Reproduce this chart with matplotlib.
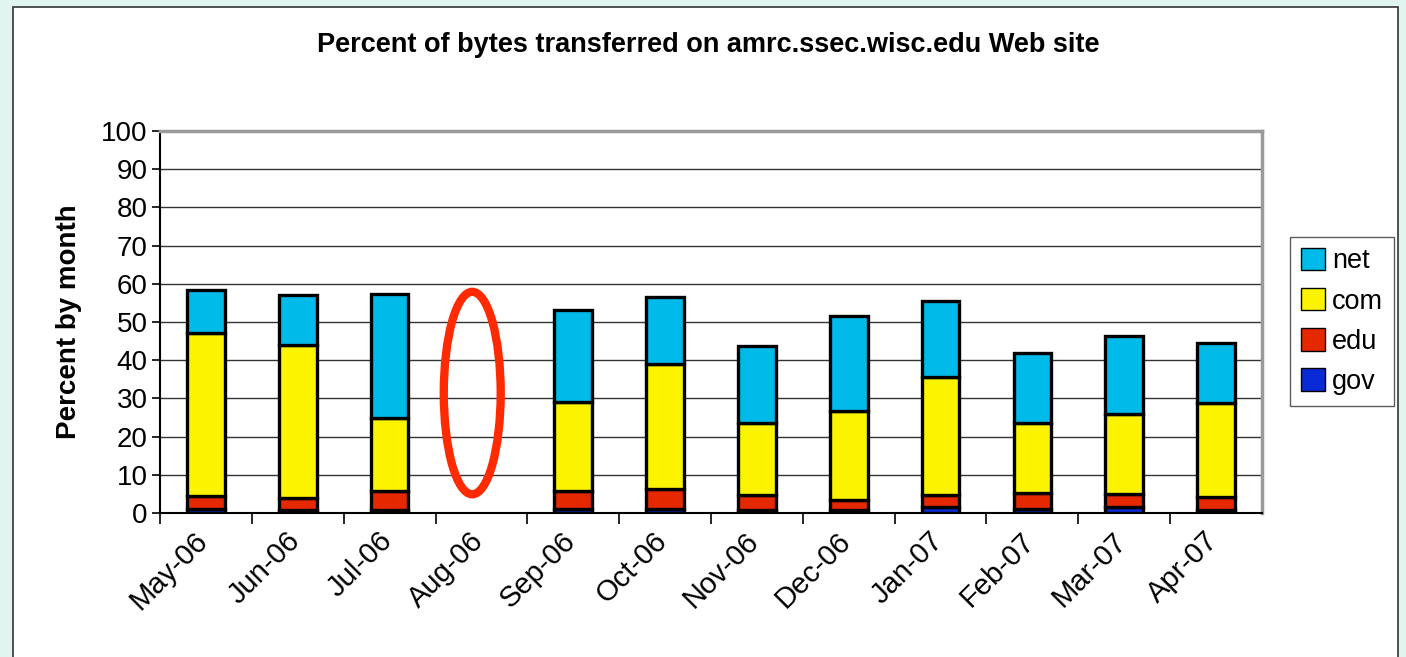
import matplotlib
matplotlib.use("Agg")
import matplotlib.pyplot as plt
import matplotlib.transforms as mtransforms
import numpy as np
from matplotlib.patches import Ellipse, Rectangle

plt.rcParams['font.family'] = ['Liberation Sans', 'DejaVu Sans']

months = ['May-06', 'Jun-06', 'Jul-06', 'Aug-06', 'Sep-06', 'Oct-06',
          'Nov-06', 'Dec-06', 'Jan-07', 'Feb-07', 'Mar-07', 'Apr-07']
# cumulative tops; Aug-06 has no data
gov_top = [1.0, 0.9, 0.9, np.nan, 1.0, 1.0, 0.8, 0.8, 1.6, 1.0, 1.6, 0.7]
edu_top = [4.4, 4.0, 5.8, np.nan, 5.8, 6.2, 4.6, 3.5, 4.7, 5.2, 4.9, 4.3]
com_top = [47.1, 44.0, 24.9, np.nan, 29.1, 39.0, 23.6, 26.7, 35.6, 23.6, 25.9, 28.8]
net_top = [58.4, 57.1, 57.3, np.nan, 53.1, 56.5, 43.7, 51.6, 55.5, 41.9, 46.3, 44.5]

colors = {'gov': '#0a2ad6', 'edu': '#e62800', 'com': '#fbf300', 'net': '#00bbea'}

fig = plt.figure(figsize=(14.06, 6.57), dpi=100)
fig.patch.set_facecolor('#e0f5ef')
fig.patches.append(Rectangle((13 / 1406, -0.01), (1398 - 13) / 1406, (657 - 7) / 657 + 0.01,
                             transform=fig.transFigure, facecolor='white',
                             edgecolor='#333333', linewidth=1.2, zorder=-10))

ax = fig.add_axes([160 / 1406, 1 - 513 / 657, (1262 - 160) / 1406, (513 - 131) / 657])
ax.set_facecolor('white')
x = np.arange(len(months))
gov = np.array(gov_top)
edu = np.array(edu_top) - gov
com = np.array(com_top) - np.array(edu_top)
net = np.array(net_top) - np.array(com_top)
ok = ~np.isnan(gov)

w = 0.41
kw = dict(width=w, edgecolor='black', linewidth=2.4, zorder=3)
ax.bar(x[ok], gov[ok], color=colors['gov'], label='gov', **kw)
ax.bar(x[ok], edu[ok], bottom=gov[ok], color=colors['edu'], label='edu', **kw)
ax.bar(x[ok], com[ok], bottom=np.array(edu_top)[ok], color=colors['com'], label='com', **kw)
ax.bar(x[ok], net[ok], bottom=np.array(com_top)[ok], color=colors['net'], label='net', **kw)

ax.set_xlim(-0.5, len(months) - 0.5)
ax.set_ylim(0, 100)
ax.set_yticks(range(0, 101, 10))
ax.tick_params(axis='y', labelsize=20, length=6, width=1.2, direction='out', pad=3)
ax.set_xticks(x - 0.5, minor=True)
ax.set_xticks(x)
ax.set_xticklabels(months, rotation=45, ha='right', rotation_mode='anchor', fontsize=21)
ax.tick_params(axis='x', which='major', length=0, pad=10)
ax.tick_params(axis='x', which='minor', length=8, width=1.2, direction='out')
shift = mtransforms.ScaledTranslation(-0.12, 0, fig.dpi_scale_trans)
for lab in ax.get_xticklabels():
    lab.set_transform(lab.get_transform() + shift)
ax.grid(axis='y', color='#333333', linewidth=1.0, zorder=0)
ax.set_axisbelow(True)
for s in ['left', 'bottom']:
    ax.spines[s].set_color('black')
    ax.spines[s].set_linewidth(1.5)
for s in ['top', 'right']:
    ax.spines[s].set_color('#9a9a9a')
    ax.spines[s].set_linewidth(2.5)

ax.set_ylabel('Percent by month', fontsize=20, fontweight='bold', labelpad=14)
fig.text(708 / 1406, 1 - 45 / 657, 'Percent of bytes transferred on amrc.ssec.wisc.edu Web site',
         ha='center', va='center', fontsize=19.5, fontweight='bold')

# red ellipse marking the missing month
ell_x, ell_y, ell_w, ell_h = 2.9, 31.4, 0.62, 53.0
ax.add_patch(Ellipse((ell_x, ell_y), ell_w, ell_h, fill=False,
                     edgecolor='#ff2a00', linewidth=6, zorder=4))

handles, labels = ax.get_legend_handles_labels()
leg = fig.legend(handles[::-1], labels[::-1], loc='upper left',
                 bbox_to_anchor=(1290 / 1406, 1 - 237 / 657),
                 fontsize=19.5, frameon=True, fancybox=False, edgecolor='#333333',
                 handlelength=0.9, handleheight=0.9, handletextpad=0.25,
                 labelspacing=0.5, borderpad=0.4, borderaxespad=0)
leg.get_frame().set_linewidth(1.0)
for h in leg.legend_handles:
    h.set_linewidth(1.0)

fig.savefig('out.png', dpi=100, facecolor=fig.get_facecolor())
